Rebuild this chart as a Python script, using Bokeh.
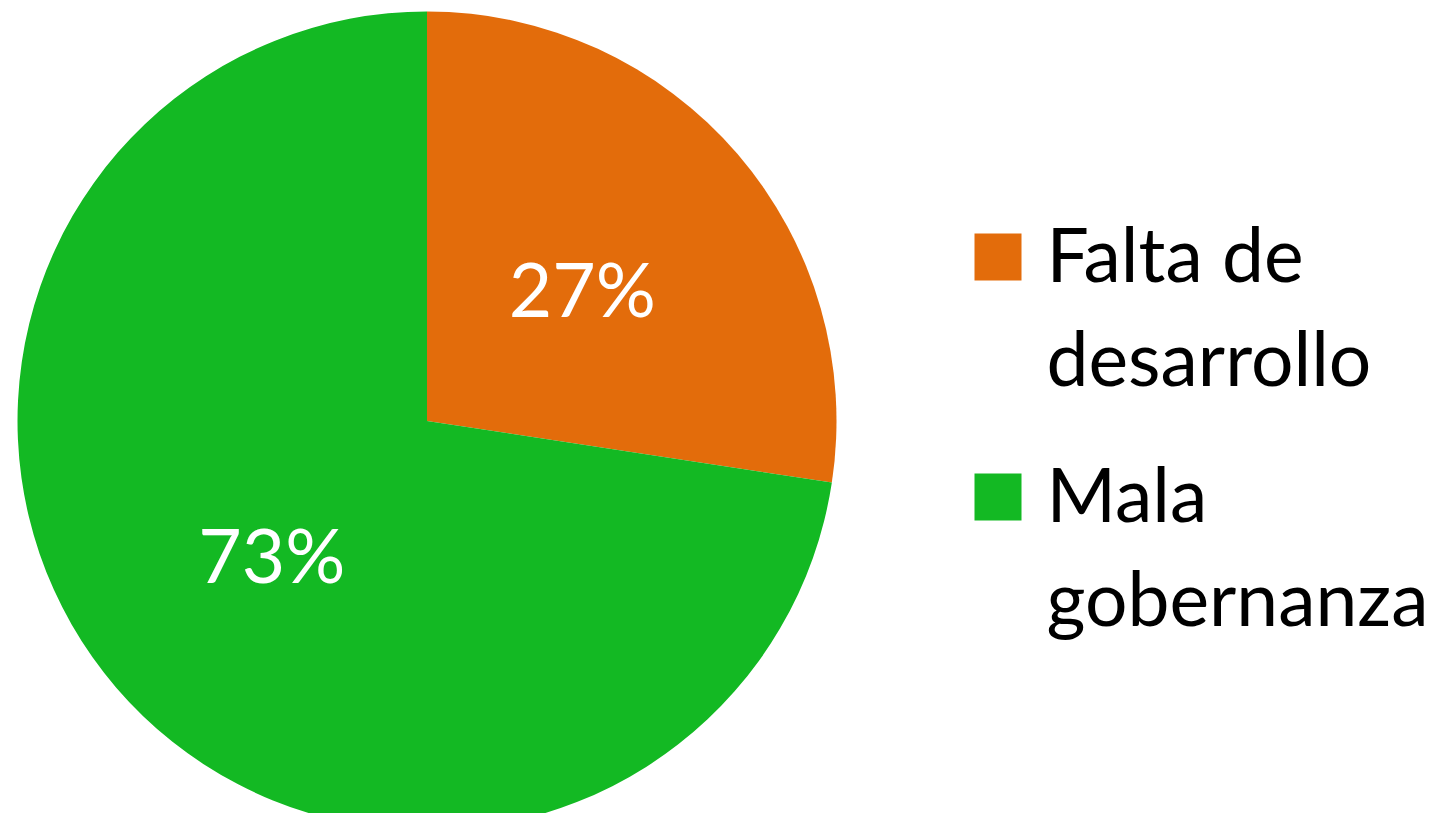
import numpy as np
from bokeh.plotting import figure
from bokeh.models import Range1d, ColumnDataSource
from bokeh.core.properties import value
from bokeh.embed import file_html
from bokeh.resources import INLINE

categories = ["Falta de\ndesarrollo", "Mala\ngobernanza"]
shares = [27.4, 72.6]
labels = ["27%", "73%"]
colors = ["#E36C0B", "#13B923"]

W, H = 1436, 813
p = figure(width=W, height=H, output_backend="svg", toolbar_location=None,
           x_range=Range1d(0, W), y_range=Range1d(-H, 0),
           min_border=0, outline_line_color=None)
p.axis.visible = False
p.grid.visible = False
p.background_fill_color = "white"
p.border_fill_color = "white"

cx, cy, r = 426.5, -420.5, 409.5
fr = np.array(shares) / np.sum(shares)
cum = np.concatenate([[0], np.cumsum(fr)])
start = np.pi / 2 - 2 * np.pi * cum[:-1]
end = np.pi / 2 - 2 * np.pi * cum[1:]
mid = (start + end) / 2

src = ColumnDataSource(dict(start=start, end=end, color=colors,
                            lx=cx + 0.5 * r * np.cos(mid), ly=cy + 0.5 * r * np.sin(mid),
                            label=labels))
p.wedge(x=cx, y=cy, radius=r, start_angle="start", end_angle="end", direction="clock",
        fill_color="color", line_color=None, source=src)
p.text(x="lx", y="ly", text="label", source=src, text_color="white",
       text_font=value("Lato"), text_font_size="75px", text_align="center",
       text_baseline="middle")

# legend
sq_x, sq_size = 997.5, 47
tx = 1046
top_base = [252, 492]
line_gap = 104
sq_y = [256.5, 496.5]
p.rect(x=[sq_x] * len(colors), y=[-v for v in sq_y], width=sq_size, height=sq_size,
       fill_color=colors, line_color=None)
lx, ly, lt = [], [], []
for i, cat in enumerate(categories):
    for j, line in enumerate(cat.split("\n")):
        lx.append(tx)
        ly.append(-(top_base[i] + j * line_gap))
        lt.append(line)
p.text(x=lx, y=ly, text=lt, text_color="black", text_font=value("Lato"),
       text_font_size="75px", text_align="left", text_baseline="alphabetic")

open("out.html", "w").write(file_html(p, INLINE))
